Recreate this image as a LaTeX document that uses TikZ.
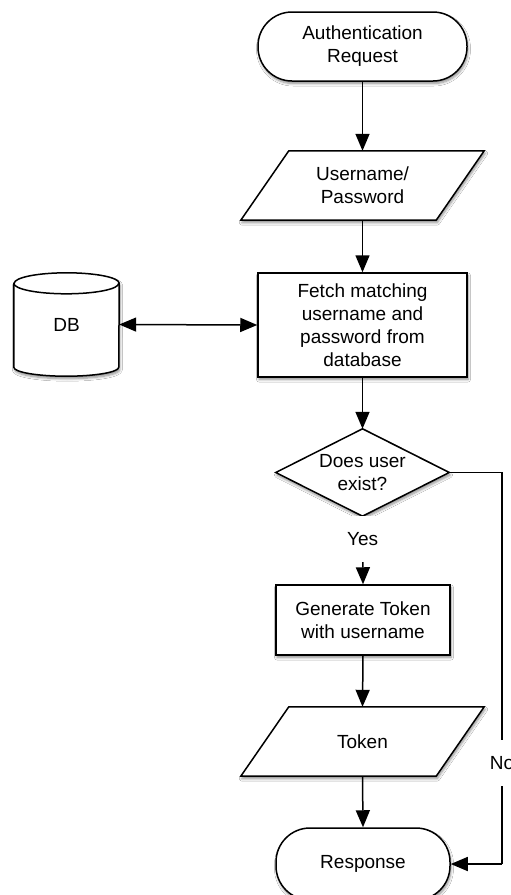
\documentclass[tikz,border=0pt]{standalone}
\usepackage{fontspec}
\setmainfont{Liberation Sans}
\usetikzlibrary{arrows.meta,shadows.blur,calc}

\tikzset{
  every picture/.style={x=1pt,y=-1pt},
  lbl/.style={font=\fontsize{19}{23}\selectfont, align=center, text=black},
  shade/.style={blur shadow={shadow xshift=1pt, shadow yshift=-2.5pt,
      shadow blur radius=2.5pt, shadow blur steps=6, shadow opacity=45}},
  outline/.style={draw=black, line width=1.5pt, fill=white, shade},
  termbox/.style={lbl, outline, minimum width=209pt, minimum height=69pt,
      rounded corners=34pt, inner sep=0pt},
  procbox/.style={lbl, outline, rectangle, minimum width=209pt, inner sep=0pt},
  hidden/.style={lbl, inner sep=0pt},
  flow/.style={line width=1.5pt, draw=black,
      -{Triangle[length=17pt,width=14pt]}},
  bothflow/.style={line width=1.5pt, draw=black,
      {Triangle[length=17pt,width=14pt]}-{Triangle[length=17pt,width=14pt]}},
  plain/.style={line width=1.5pt, draw=black},
  tag/.style={lbl, fill=white, inner sep=0pt, minimum width=30pt, minimum height=46pt},
}

\begin{document}
\begin{tikzpicture}
\useasboundingbox (0,0) rectangle (511,895);
\fill[white] (0,0) rectangle (511,895);

% start terminal
\node[termbox] (auth) at (362.5,46.5) {Authentication\\Request};

% input: credentials (parallelogram drawn around an invisible node)
\node[hidden, minimum width=195pt, minimum height=69pt] (user) at (362.5,185.5) {};
\path[outline] ($(user.north west)+(24,0)$) -- ($(user.north east)+(24,0)$)
  -- ($(user.south east)+(-24,0)$) -- ($(user.south west)+(-24,0)$) -- cycle;
\node[lbl] at (user) {Username/\\Password};

% lookup step
\node[procbox, minimum height=104pt] (fetch) at (362.5,325)
  {Fetch matching\\username and\\password from\\database};

% database cylinder
\node[hidden, minimum width=105pt, minimum height=103pt] (db) at (66.5,324.5) {};
\path[outline] (db.north west) ++(0,10.5)
  -- ($(db.south west)+(0,-9)$)
  arc[start angle=180, end angle=360, x radius=52.5pt, y radius=9pt]
  -- ($(db.north east)+(0,10.5)$)
  arc[start angle=0, end angle=180, x radius=52.5pt, y radius=10.5pt] -- cycle;
\draw[line width=1.5pt] ($(db.north west)+(0,10.5)$)
  arc[start angle=180, end angle=360, x radius=52.5pt, y radius=10.5pt];
\node[lbl] at (db) {DB};

% decision (diamond drawn around an invisible node)
\node[hidden, minimum width=173pt, minimum height=87pt] (dec) at (362.5,472.5) {};
\path[outline] (dec.north) -- (dec.east) -- (dec.south) -- (dec.west) -- cycle;
\node[lbl] at (dec) {Does user\\exist?};

% token generation
\node[procbox, minimum width=174pt, minimum height=70pt] (gen) at (363,620)
  {Generate Token\\with username};

% output: token
\node[hidden, minimum width=195pt, minimum height=69pt] (tok) at (362.5,741.5) {};
\path[outline] ($(tok.north west)+(24,0)$) -- ($(tok.north east)+(24,0)$)
  -- ($(tok.south east)+(-24,0)$) -- ($(tok.south west)+(-24,0)$) -- cycle;
\node[lbl] at (tok) {Token};

% end terminal
\node[termbox, minimum width=174pt, minimum height=72pt] (resp) at (363,864) {Response};

% connectors
\draw[flow] (auth.south) -- (user.north);
\draw[flow] (user.south) -- (fetch.north);
\draw[bothflow] (db.east) -- (fetch.west);
\draw[flow] (fetch.south) -- (dec.north);
\draw[flow] (dec.south) -- node[tag, pos=0.333] {Yes} (gen.north);
\draw[flow] (gen.south) -- (tok.north);
\draw[flow] (tok.south) -- (resp.north);

\coordinate (noA) at (502,472.5);
\coordinate (noB) at (502,864);
\draw[plain] (dec.east) -- (noA) -- node[tag, pos=0.743] {No} (noB);
\draw[flow] (noB) -- (resp.east);
\end{tikzpicture}
\end{document}
